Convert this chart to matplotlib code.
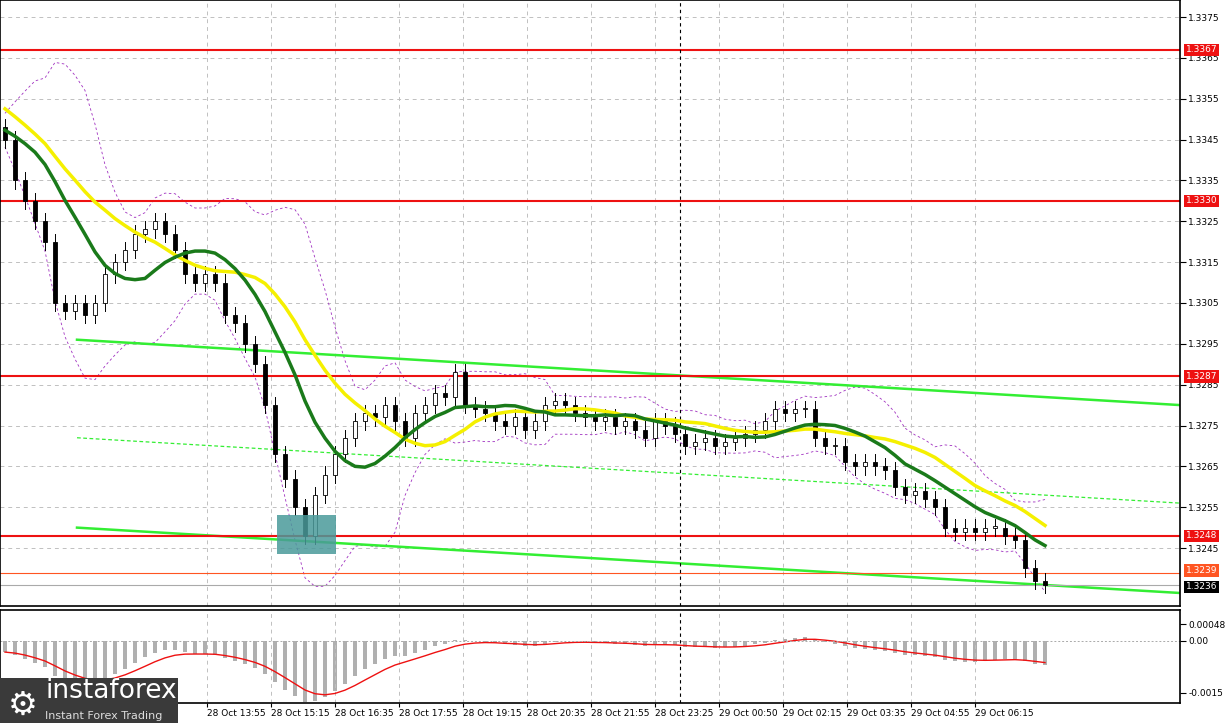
import matplotlib.pyplot as plt
import numpy as np
import pandas as pd
from matplotlib.patches import Rectangle

# closes of earlier bars (only feed the indicators, not drawn)
prior_closes = [1.3372, 1.3370, 1.3368, 1.3366, 1.3368, 1.3365, 1.3362, 1.3360,
                1.3358, 1.3355, 1.3352, 1.3350, 1.3348, 1.3346,
                1.3350, 1.3347, 1.3349, 1.3346, 1.3344, 1.3348]
closes = [1.3345, 1.3335, 1.3330, 1.3325, 1.3320, 1.3305, 1.3303, 1.3305, 1.3302, 1.3305,
          1.3312, 1.3315, 1.3318, 1.3322, 1.3323, 1.3325, 1.3322, 1.3318, 1.3312, 1.3310,
          1.3312, 1.3310, 1.3302, 1.3300, 1.3295, 1.3290, 1.3280, 1.3268, 1.3262, 1.3255,
          1.3248, 1.3258, 1.3263, 1.3268, 1.3272, 1.3276, 1.3278, 1.3277, 1.3280, 1.3276,
          1.3272, 1.3278, 1.3280, 1.3283, 1.3282, 1.3288, 1.3280, 1.3279, 1.3278, 1.3276,
          1.3275, 1.3277, 1.3274, 1.3276, 1.3280, 1.3281, 1.3280, 1.3278, 1.3277, 1.3276,
          1.3277, 1.3275, 1.3276, 1.3274, 1.3272, 1.3276, 1.3275, 1.3273, 1.3270, 1.3271,
          1.3272, 1.3270, 1.3271, 1.3272, 1.3273, 1.3274, 1.3276, 1.3279, 1.3278, 1.3279,
          1.3279, 1.3272, 1.3270, 1.3270, 1.3266, 1.3265, 1.3266, 1.3265, 1.3264, 1.3260,
          1.3258, 1.3259, 1.3257, 1.3255, 1.3250, 1.3249, 1.3250, 1.3249, 1.3250, 1.3250,
          1.3248, 1.3247, 1.3240, 1.3237, 1.3236]
levels = [1.3367, 1.3330, 1.3287, 1.3248]
price_ticks = [1.3375, 1.3365, 1.3355, 1.3345, 1.3335, 1.3325, 1.3315, 1.3305,
               1.3295, 1.3285, 1.3275, 1.3265, 1.3255, 1.3245]
time_labels = ["28 Oct 13:55", "28 Oct 15:15", "28 Oct 16:35", "28 Oct 17:55",
               "28 Oct 19:15", "28 Oct 20:35", "28 Oct 21:55", "28 Oct 23:25",
               "29 Oct 00:50", "29 Oct 02:15", "29 Oct 03:35", "29 Oct 04:55",
               "29 Oct 06:15"]
time_pos = [20.7, 27.1, 33.5, 39.9, 46.3, 52.7, 59.1, 65.5, 71.9, 78.3, 84.7, 91.1, 97.5]

allc = pd.Series(prior_closes + closes)
n0 = len(prior_closes)
ma_fast = allc.rolling(10, min_periods=1).mean()[n0:].values
ma_slow = allc.rolling(17, min_periods=1).mean()[n0:].values
sd = allc.rolling(10, min_periods=1).std().fillna(0)[n0:].values
macd = (allc.ewm(span=8).mean() - allc.ewm(span=18).mean())
signal = macd.ewm(span=5).mean()
macd = macd[n0:].values
signal = signal[n0:].values
x = np.arange(len(closes)) + 0.5

fig = plt.figure(figsize=(12.25, 7.23), dpi=100)
ax = fig.add_axes([0, 1 - 606 / 723, 1180 / 1225, 606 / 723])
ax2 = fig.add_axes([0, 1 - 703 / 723, 1180 / 1225, 93 / 723])

# candles
opens = [prior_closes[-1]] + closes[:-1]
for i, (o, c) in enumerate(zip(opens, closes)):
    hi, lo = max(o, c) + 0.0002, min(o, c) - 0.0002
    ax.plot([x[i], x[i]], [lo, hi], color="black", lw=0.7, zorder=3)
    ax.add_patch(Rectangle((x[i] - 0.18, min(o, c)), 0.36, max(abs(c - o), 0.00003),
                           facecolor="white" if c >= o else "black",
                           edgecolor="black", lw=0.6, zorder=4))

ax.plot(x, ma_fast + 2 * sd, color="#a030c0", lw=0.6, ls=(0, (3, 3)), zorder=2)
ax.plot(x, ma_fast - 2 * sd, color="#a030c0", lw=0.6, ls=(0, (3, 3)), zorder=2)
ax.plot(x, ma_slow, color="#f5f000", lw=2.5, zorder=5)
ax.plot(x, ma_fast, color="#1a7a1a", lw=2.5, zorder=6)

# trend lines
ax.plot([7.7, 118], [1.3296, 1.3280], color="#33ee33", lw=1.8, zorder=2)
ax.plot([7.7, 118], [1.3272, 1.3256], color="#33ee33", lw=0.9, ls=(0, (3, 2)), zorder=2)
ax.plot([7.7, 118], [1.3250, 1.3234], color="#33ee33", lw=1.8, zorder=2)

for lv in levels:
    ax.axhline(lv, color="#ee1111", lw=1.5, zorder=2)
ax.axhline(1.3239, color="#ff5522", lw=0.8)
ax.axhline(1.3236, color="#aaaaaa", lw=0.8)
ax.add_patch(Rectangle((27.7, 1.32435), 5.9, 0.00095, facecolor="#4a9a9a",
                       alpha=0.85, edgecolor="none", zorder=7))
ax.axvline(68, color="black", lw=0.8, ls=(0, (3, 3)))
ax2.axvline(68, color="black", lw=0.8, ls=(0, (3, 3)))

ymin = 1.3375 - (606 - 17) / 40850
ax.set_ylim(ymin, 1.3375 + 17 / 40850)
ax.set_xlim(0, 118)
ax.yaxis.tick_right()
ax.set_yticks(price_ticks)
ax.set_yticklabels([f"{p:.4f}" for p in price_ticks], fontsize=6.5)
ax.set_xticks(time_pos)
ax.set_xticklabels([])
ax.grid(True, color="#c0c0c0", ls=(0, (4, 4)), lw=0.7)
ax.tick_params(axis="y", length=4, pad=2)
ax.tick_params(axis="x", length=0)

for lv, txt, col in [(l, f"{l:.4f}", "#ee1111") for l in levels] + \
        [(1.32395, "1.3239", "#ff5522"), (1.32355, "1.3236", "black")]:
    ax.text(1.005, lv, txt, transform=ax.get_yaxis_transform(), fontsize=6.5,
            color="white", va="center", ha="left",
            bbox=dict(facecolor=col, edgecolor="none", pad=1.2))

# MACD panel
ax2.bar(x, macd, width=0.4, color="#b0b0b0")
ax2.plot(x, signal, color="#ee1111", lw=1)
ax2.set_xlim(0, 118)
ax2.set_ylim(-0.0018, 0.0009)
ax2.yaxis.tick_right()
ax2.set_yticks([0.00048, 0.0, -0.0015])
ax2.set_yticklabels(["0.00048", "0.00", "-0.0015"], fontsize=6.5)
ax2.axhline(0, color="#aaaaaa", lw=0.7, ls=(0, (2, 2)))
ax2.set_xticks(time_pos)
ax2.set_xticklabels(time_labels, fontsize=6.5, ha="left")
ax2.grid(True, axis="x", color="#c0c0c0", ls=(0, (4, 4)), lw=0.7)
ax2.tick_params(axis="x", length=3, pad=1)
ax2.tick_params(axis="y", length=4, pad=2)
for a in (ax, ax2):
    for s in a.spines.values():
        s.set_linewidth(1.2)

# logo box
fig.patches.append(Rectangle((0, 0), 178 / 1225, 45 / 723, transform=fig.transFigure,
                             facecolor="#3a3a3a", edgecolor="none", zorder=10))
fig.text(45 / 1225, 19 / 723, "instaforex", color="white", fontsize=19, zorder=11, va="bottom")
fig.text(45 / 1225, 4 / 723, "Instant Forex Trading", color="#dddddd", fontsize=8, zorder=11)
fig.text(8 / 1225, 8 / 723, "\u2699", color="white", fontsize=24, zorder=11)

fig.savefig("out.png", dpi=100)
